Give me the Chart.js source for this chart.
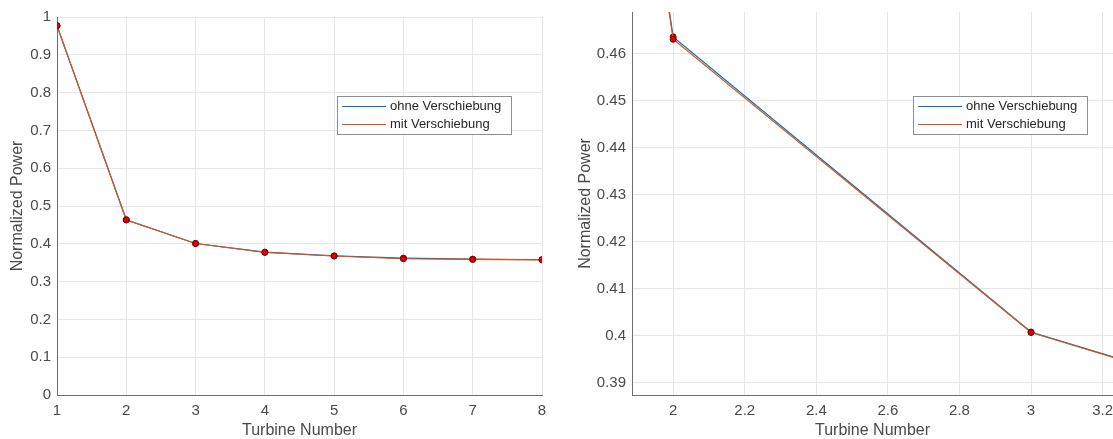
<!DOCTYPE html>
<html>
<head>
<meta charset="utf-8">
<script src="https://cdn.jsdelivr.net/npm/chart.js@4.4.0/dist/chart.umd.min.js"></script>
<style>
  html, body { margin: 0; padding: 0; background: #fff; overflow: hidden; }
  #wrapLeft { position: absolute; left: 0; top: 0; width: 560px; height: 439px; }
  #wrapRight { position: absolute; left: 560px; top: 0; width: 558px; height: 439px; }
</style>
</head>
<body>
<div id="wrapLeft"><canvas id="leftChart"></canvas></div>
<div id="wrapRight"><canvas id="rightChart"></canvas></div>
<script>
// values
const turbines = [1, 2, 3, 4, 5, 6, 7, 8];
const powerOhne = [0.977, 0.4636, 0.4008, 0.3778, 0.3680, 0.3620, 0.3592, 0.3578];
const powerMit  = [0.977, 0.4631, 0.4007, 0.3775, 0.3677, 0.3605, 0.3588, 0.3575];
const seriesNames = ['ohne Verschiebung', 'mit Verschiebung'];

const leftXTicks = [1, 2, 3, 4, 5, 6, 7, 8];
const leftYTicks = [0, 0.1, 0.2, 0.3, 0.4, 0.5, 0.6, 0.7, 0.8, 0.9, 1];
const rightXTicks = [2, 2.2, 2.4, 2.6, 2.8, 3, 3.2];
const rightYTicks = [0.39, 0.40, 0.41, 0.42, 0.43, 0.44, 0.45, 0.46];

const xTitle = 'Turbine Number';
const yTitle = 'Normalized Power';

const FONT = '"Liberation Sans", Arial, sans-serif';
const lineColors = ['#0072bd', '#d95319'];

// simple boxed legend drawn inside the axes, like MATLAB's
const legendBox = {
    id: 'legendBox',
    afterDatasetsDraw(chart, args, o) {
        const ctx = chart.ctx;
        ctx.save();
        ctx.fillStyle = '#fff';
        ctx.fillRect(o.x, o.y, o.w, o.h);
        ctx.strokeStyle = '#8f8f8f';
        ctx.lineWidth = 1;
        ctx.strokeRect(o.x + 0.5, o.y + 0.5, o.w, o.h);
        ctx.font = '13px ' + FONT;
        ctx.textBaseline = 'middle';
        chart.data.datasets.forEach(function (ds, i) {
            const y = o.y + 10 + i * 18;
            ctx.strokeStyle = ds.borderColor;
            ctx.beginPath();
            ctx.moveTo(o.x + 5, y + 0.5);
            ctx.lineTo(o.x + 49, y + 0.5);
            ctx.stroke();
            ctx.fillStyle = '#262626';
            ctx.fillText(ds.label, o.x + 53, y);
        });
        ctx.restore();
    }
};

function fmt(v) {
    return String(+Number(v).toFixed(2));
}

function makeChart(id, cfg) {
    const datasets = [powerOhne, powerMit].map(function (vals, i) {
        return {
            label: seriesNames[i],
            data: turbines.map(function (t, k) { return { x: t, y: vals[k] }; }),
            borderColor: lineColors[i],
            borderWidth: 1.2,
            pointRadius: 3,
            pointBackgroundColor: '#e00000',
            pointBorderColor: '#700000',
            pointBorderWidth: 1,
            tension: 0,
            order: i === 0 ? 1 : 0
        };
    });

    return new Chart(document.getElementById(id), {
        type: 'line',
        data: { datasets: datasets },
        plugins: [legendBox],
        options: {
            responsive: true,
            maintainAspectRatio: false,
            animation: false,
            layout: { padding: cfg.padding },
            plugins: {
                legend: { display: false },
                tooltip: { enabled: false },
                legendBox: cfg.legend
            },
            scales: {
                x: {
                    type: 'linear',
                    min: cfg.xMin,
                    max: cfg.xMax,
                    afterBuildTicks: function (s) { s.ticks = cfg.xTicks.map(function (v) { return { value: v }; }); },
                    afterFit: function (s) { s.height = 44; s.paddingLeft = 0; s.paddingRight = 0; },
                    grid: { color: '#e6e6e6', drawTicks: false },
                    border: { color: '#6e6e6e', width: 1 },
                    ticks: {
                        padding: 7,
                        color: '#4a4a4a',
                        font: { family: FONT, size: 15 },
                        maxRotation: 0,
                        autoSkip: false,
                        callback: fmt
                    },
                    title: {
                        display: true,
                        text: xTitle,
                        color: '#4a4a4a',
                        font: { family: FONT, size: 16, lineHeight: 1 },
                        padding: { top: 0, bottom: 0 }
                    }
                },
                y: {
                    type: 'linear',
                    min: cfg.yMin,
                    max: cfg.yMax,
                    afterBuildTicks: function (s) { s.ticks = cfg.yTicks.map(function (v) { return { value: v }; }); },
                    afterFit: function (s) { s.width = cfg.yWidth; s.paddingTop = 0; s.paddingBottom = 0; },
                    grid: { color: '#e6e6e6', drawTicks: false },
                    border: { color: '#6e6e6e', width: 1 },
                    ticks: {
                        padding: 6,
                        color: '#4a4a4a',
                        font: { family: FONT, size: 15 },
                        autoSkip: false,
                        callback: fmt
                    },
                    title: {
                        display: true,
                        text: yTitle,
                        color: '#4a4a4a',
                        font: { family: FONT, size: 16, lineHeight: 1 },
                        padding: { top: cfg.yTitlePad, bottom: 0 }
                    }
                }
            }
        }
    });
}

document.addEventListener('DOMContentLoaded', function () {
    makeChart('leftChart', {
        xMin: 1, xMax: 8, yMin: 0, yMax: 1,
        xTicks: leftXTicks, yTicks: leftYTicks,
        yWidth: 57, yTitlePad: 10,
        padding: { top: 17, right: 18, left: 0, bottom: 0 },
        legend: { x: 337, y: 96, w: 174, h: 38 }
    });
    makeChart('rightChart', {
        xMin: 1.885, xMax: 3.229, yMin: 0.3874, yMax: 0.4689,
        xTicks: rightXTicks, yTicks: rightYTicks,
        yWidth: 72, yTitlePad: 18,
        padding: { top: 12, right: 0, left: 0, bottom: 0 },
        legend: { x: 353, y: 96, w: 174, h: 38 }
    });
});
</script>
</body>
</html>
